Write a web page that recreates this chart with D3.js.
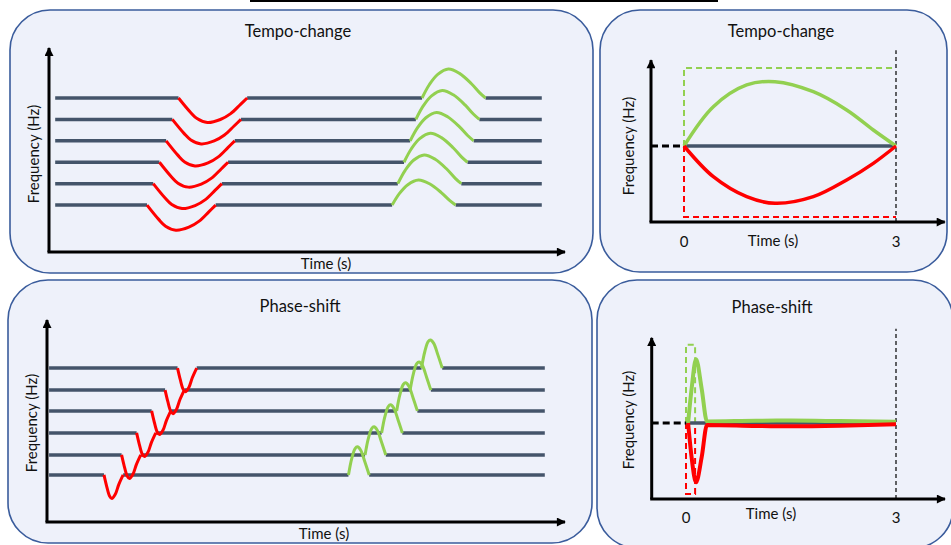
<!DOCTYPE html>
<html><head><meta charset="utf-8">
<script src="https://cdn.jsdelivr.net/npm/d3@7"></script>
<style>
html,body{margin:0;padding:0;background:#fff;}
svg{display:block;}
text{font-family:Lato,"Open Sans",sans-serif;fill:#111;}
</style></head>
<body><svg id="c" width="951" height="545"></svg>
<script>
// ---------------- DATA ----------------
const panelTitles = ["Tempo-change", "Tempo-change", "Phase-shift", "Phase-shift"];
const axisYLabel = "Frequency (Hz)";
const axisXLabel = "Time (s)";
const tickLabels = [0, 3];

// Panel A: tempo-change, six partials (arbitrary units 0-100)
const tcLevels      = [75.5, 65.0, 54.5, 44.0, 33.5, 23.0];
const tcRedStart    = [25.1, 23.9, 22.7, 21.4, 20.2, 19.0];
const tcGreenStart  = [72.3, 71.1, 70.0, 68.8, 67.6, 66.5];
const tcGreenHeight = [14.2, 14.2, 13.9, 14.2, 14.1, 12.3];
const tcRedDepth    = [12.0, 12.0, 12.3, 12.2, 12.2, 12.3];
const tcRedWidth = 13.3, tcGreenWidth = 12.3;
const tcLineStart = 1.2, tcLineEnd = 95.5;
const tcDipShape  = [[0,0],[0.17,-0.57],[0.27,-0.84],[0.42,-1],[0.61,-0.88],[0.76,-0.64],[0.9,-0.27],[1,0]];
const tcBumpShape = [[0,0],[0.116,0.465],[0.247,0.814],[0.415,1],[0.589,0.849],[0.774,0.5],[0.905,0.186],[1,0]];

// Panel B: tempo-change, relative frequency over 0-3 s
const tcTime      = [0, 0.415, 0.887, 1.288, 1.83, 2.302, 2.679, 3];
const tcFaster    = [1, 1.517, 1.803, 1.846, 1.714, 1.474, 1.211, 1];
const tcSlower    = [1, 0.596, 0.333, 0.246, 0.333, 0.553, 0.772, 1];
const tcMaxFaster = 2.026, tcMaxSlower = 0.066;

// Panel C: phase-shift, six partials (arbitrary units 0-100)
const psLevels      = [76.2, 65.3, 55.0, 44.1, 33.2, 23.3];
const psRedStart    = [25.2, 22.8, 20.2, 17.3, 14.4, 11.0];
const psGreenStart  = [72.3, 70.1, 67.5, 64.6, 61.4, 58.2];
const psRedWidth = 3.7, psRedDepth = 11.7, psGreenWidth = 4.0, psGreenHeight = 13.9;
const psLineStart = 0.4, psLineEnd = 96.1;
const psDipShape  = [[0,0],[0.14,-0.48],[0.29,-0.89],[0.41,-1],[0.59,-0.82],[0.77,-0.41],[1,0]];
const psBumpShape = [[0,0],[0.16,0.59],[0.32,0.94],[0.43,1],[0.59,0.88],[0.79,0.47],[1,0]];

// Panel D: phase-shift, relative frequency over 0-3 s
const psTime   = [0.03, 0.08, 0.143, 0.224, 0.3, 1.0, 1.5, 2.2, 3];
const psFaster = [1, 1.45, 1.84, 1.45, 1.02, 1.03, 1.032, 1.025, 1.015];
const psSlower = [1, 0.55, 0.22, 0.55, 0.975, 0.962, 0.957, 0.965, 0.985];
const psBoxEnd = 0.13, psMaxFaster = 2.03, psMaxSlower = 0.066;

// ---------------- STYLE ----------------
const C = {fill:"#EEF1FA", border:"#3A5C9C", gray:"#44546A", red:"#FF0000", green:"#92D050", black:"#000"};

const svg = d3.select("#c");
const defs = svg.append("defs");
defs.append("marker").attr("id","arrow").attr("viewBox","0 0 10 10")
  .attr("refX",9).attr("refY",5).attr("markerWidth",10).attr("markerHeight",9)
  .attr("markerUnits","userSpaceOnUse").attr("orient","auto")
  .append("path").attr("d","M0,0 L10,5 L0,10 Z").attr("fill","#000");

// top strip (bottom edge of box above)
svg.append("line").attr("x1",250).attr("x2",718).attr("y1",1).attr("y2",1)
  .attr("stroke","#000").attr("stroke-width",2.2);

// panel boxes
const boxes = [
  {x:10, y:10, w:583, h:263},
  {x:600,y:10, w:347, h:262},
  {x:8,  y:280,w:584, h:263},
  {x:597,y:280,w:356, h:268}
];
boxes.forEach(b=>{
  svg.append("rect").attr("x",b.x).attr("y",b.y).attr("width",b.w).attr("height",b.h)
    .attr("rx",40).attr("ry",40).attr("fill",C.fill).attr("stroke",C.border).attr("stroke-width",1.6);
});

const lineGen = d3.line().curve(d3.curveCatmullRom.alpha(0.5));
const monoGen = d3.line().curve(d3.curveMonotoneX);

function axes(g, x0, y0, xTip, yTip){
  g.append("line").attr("x1",x0).attr("y1",y0).attr("x2",x0).attr("y2",yTip)
    .attr("stroke","#000").attr("stroke-width",3).attr("marker-end","url(#arrow)");
  g.append("line").attr("x1",x0-1.5).attr("y1",y0).attr("x2",xTip).attr("y2",y0)
    .attr("stroke","#000").attr("stroke-width",3).attr("marker-end","url(#arrow)");
}
const LFS = 15;
function title(t, x, y){ svg.append("text").attr("x",x).attr("y",y).attr("text-anchor","middle").attr("font-size",16.5).text(t); }
function ylab(x, y){ svg.append("text").attr("transform",`translate(${x},${y}) rotate(-90)`).attr("text-anchor","middle").attr("font-size",LFS).text(axisYLabel); }
function xlab(x, y){ svg.append("text").attr("x",x).attr("y",y).attr("text-anchor","middle").attr("font-size",LFS).text(axisXLabel); }

// ---------- schematic panels (A and C) ----------
function schematic(cfg){
  const g = svg.append("g");
  const x = d3.scaleLinear().domain([0,100]).range(cfg.xr);
  const y = d3.scaleLinear().domain([0,100]).range(cfg.yr);
  axes(g, x(0), y(0), x(100), y(100));
  cfg.levels.forEach((lv,i)=>{
    const rs = cfg.redStart[i], re = rs + cfg.redWidth;
    const gs = cfg.greenStart[i], ge = gs + cfg.greenWidth;
    const segs = [[cfg.lineStart, rs],[re, gs],[ge, cfg.lineEnd]];
    segs.forEach(s=>{
      g.append("line").attr("x1",x(s[0])).attr("x2",x(s[1])).attr("y1",y(lv)).attr("y2",y(lv))
        .attr("stroke",C.gray).attr("stroke-width",3.5);
    });
  });
  cfg.levels.forEach((lv,i)=>{
    const rd = Array.isArray(cfg.redDepth)?cfg.redDepth[i]:cfg.redDepth;
    const gh = Array.isArray(cfg.greenHeight)?cfg.greenHeight[i]:cfg.greenHeight;
    const red = cfg.dip.map(([f,v])=>[x(cfg.redStart[i]+f*cfg.redWidth), y(lv+v*rd)]);
    const grn = cfg.bump.map(([f,v])=>[x(cfg.greenStart[i]+f*cfg.greenWidth), y(lv+v*gh)]);
    g.append("path").attr("d",lineGen(red)).attr("fill","none").attr("stroke",C.red).attr("stroke-width",3);
    g.append("path").attr("d",lineGen(grn)).attr("fill","none").attr("stroke",C.green).attr("stroke-width",3);
  });
}
schematic({xr:[49,565], yr:[252,48], levels:tcLevels, redStart:tcRedStart, greenStart:tcGreenStart,
  redWidth:tcRedWidth, greenWidth:tcGreenWidth, redDepth:tcRedDepth, greenHeight:tcGreenHeight,
  lineStart:tcLineStart, lineEnd:tcLineEnd, dip:tcDipShape, bump:tcBumpShape});
schematic({xr:[47,565], yr:[522,320], levels:psLevels, redStart:psRedStart, greenStart:psGreenStart,
  redWidth:psRedWidth, greenWidth:psGreenWidth, redDepth:psRedDepth, greenHeight:psGreenHeight,
  lineStart:psLineStart, lineEnd:psLineEnd, dip:psDipShape, bump:psBumpShape});

// ---------- detail panels (B and D) ----------
function detail(cfg){
  const g = svg.append("g");
  const x = d3.scaleLinear().domain([0,3]).range(cfg.xr);
  const y = d3.scaleLinear().domain([0,2]).range(cfg.yr);
  const x0 = x(cfg.tMin), xTip = x(cfg.tMax);
  const gen = cfg.mono ? monoGen : lineGen;
  g.append("line").attr("x1",x(3)).attr("x2",x(3)).attr("y1",y(0)).attr("y2",y(cfg.vTop))
    .attr("stroke","#000").attr("stroke-width",1.2).attr("stroke-dasharray","4,3");
  const b = cfg.boxEnd;
  g.append("path").attr("d",d3.line()([[x(0),y(1)],[x(0),y(cfg.maxF)],[x(b),y(cfg.maxF)]].concat(cfg.closed?[[x(b),y(1)]]:[])))
    .attr("fill","none").attr("stroke",C.green).attr("stroke-width",2).attr("stroke-dasharray","6,4");
  g.append("path").attr("d",d3.line()([[x(0),y(1)],[x(0),y(cfg.maxS)],[x(b),y(cfg.maxS)]].concat(cfg.closed?[[x(b),y(1)]]:[])))
    .attr("fill","none").attr("stroke",C.red).attr("stroke-width",2).attr("stroke-dasharray","6,4");
  g.append("line").attr("x1",x0).attr("x2",x(0)).attr("y1",y(1)).attr("y2",y(1))
    .attr("stroke","#000").attr("stroke-width",3).attr("stroke-dasharray","7,4");
  g.append("line").attr("x1",x(0)).attr("x2",x(3)).attr("y1",y(1)).attr("y2",y(1))
    .attr("stroke",C.gray).attr("stroke-width",3.5);
  g.append("path").attr("d",gen(cfg.t.map((t,i)=>[x(t),y(cfg.f[i])])))
    .attr("fill","none").attr("stroke",C.green).attr("stroke-width",cfg.sw);
  g.append("path").attr("d",gen(cfg.t.map((t,i)=>[x(t),y(cfg.s[i])])))
    .attr("fill","none").attr("stroke",C.red).attr("stroke-width",cfg.sw);
  axes(g, x0, y(0), xTip, y(cfg.vTip));
  tickLabels.forEach(t=>{
    g.append("text").attr("x",x(t)).attr("y",cfg.tickY).attr("text-anchor","middle").attr("font-size",LFS).text(t);
  });
}
detail({xr:[684,896], yr:[222,70], tMin:-0.467, tMax:3.69, vTip:2.13, vTop:2.26,
  maxF:tcMaxFaster, maxS:tcMaxSlower, boxEnd:3, closed:false, mono:false,
  t:tcTime, f:tcFaster, s:tcSlower, sw:3.5, tickY:247});
detail({xr:[686,896], yr:[499,347], tMin:-0.49, tMax:3.7, vTip:2.12, vTop:2.24,
  maxF:psMaxFaster, maxS:psMaxSlower, boxEnd:psBoxEnd, closed:true, mono:true,
  t:psTime, f:psFaster, s:psSlower, sw:4, tickY:523});

// ---------- text ----------
title(panelTitles[0], 298, 37);
title(panelTitles[1], 781, 37);
title(panelTitles[2], 300, 312);
title(panelTitles[3], 772, 313);
ylab(39, 154); ylab(634, 146); ylab(37, 423); ylab(634, 420);
xlab(326, 269); xlab(773, 246); xlab(324, 539); xlab(771, 519);
</script></body></html>
